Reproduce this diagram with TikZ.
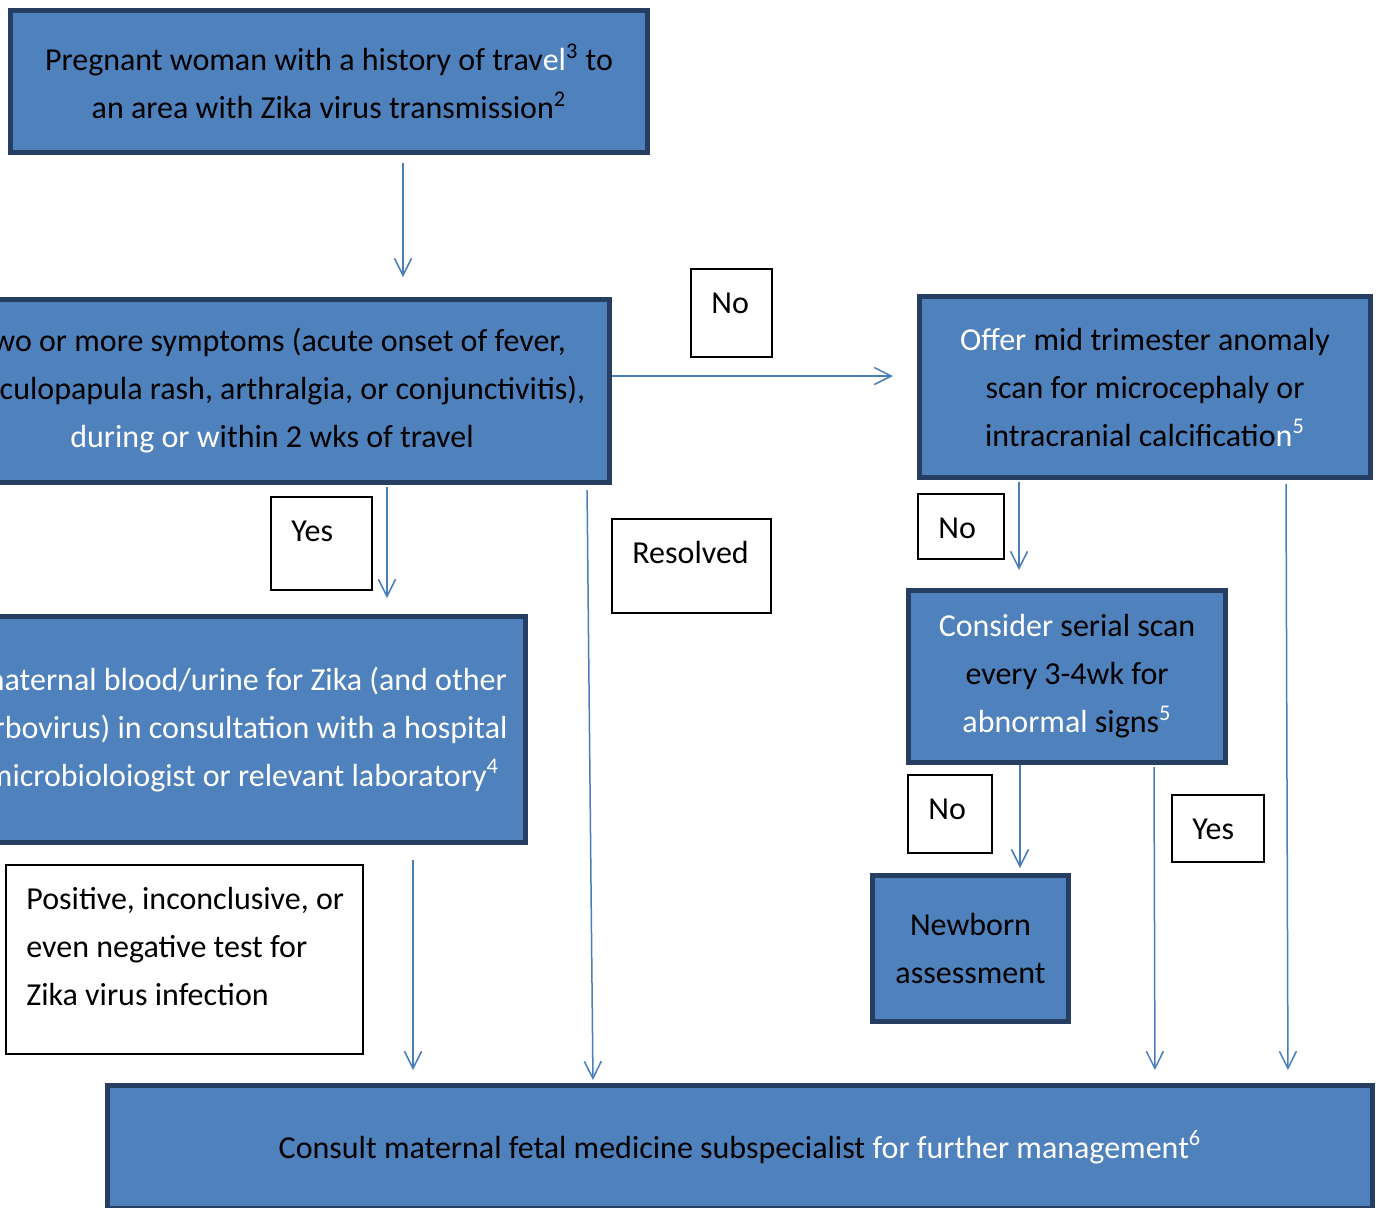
\documentclass[tikz,border=0pt]{standalone}
\usepackage{fontspec}
\setmainfont{Carlito}
\usetikzlibrary{arrows.meta,calc}
\definecolor{boxfill}{HTML}{4F81BD}
\definecolor{boxborder}{HTML}{253E62}
\definecolor{arrowblue}{HTML}{4A7EBB}
\newcommand\fs{\fontsize{16}{24}\selectfont}
\newcommand\wh[1]{\textcolor{white}{#1}}
\begin{document}
\begin{tikzpicture}[x=0.5pt,y=-0.5pt,
  bbox/.style={draw=boxborder, fill=boxfill, line width=2.5pt, align=center, font=\fs, inner sep=0pt},
  lframe/.style={draw=black, line width=0.8pt, fill=white, inner sep=0pt},
  ltext/.style={anchor=base west, inner sep=0pt, align=left, font=\fs},
  arr/.style={draw=arrowblue, line width=0.75pt, -{Straight Barb[length=8.5pt,width=8.5pt]}}]
\useasboundingbox (0,0) rectangle (1378,1207);
\clip (0,0) rectangle (1378,1207);
\fill[white] (0,0) rectangle (1378,1207);

% main boxes
\node[bbox, minimum width=318.5pt, minimum height=71pt] (b1) at (329,81.5)
  {Pregnant woman with a history of trav\wh{el}\textsuperscript{3} to\\ an area with Zika virus transmission\textsuperscript{2}};
\node[bbox, minimum width=337.5pt, minimum height=91.5pt] (b2) at (272,391)
  {Two or more symptoms (acute onset of fever,\\ maculopapula rash, arthralgia, or conjunctivitis),\\ \wh{during or w}ithin 2 wks of travel};
\node[bbox, minimum width=282.5pt, minimum height=113pt, text=white] (b3) at (243,729.5)
  {maternal blood/urine for Zika (and other\\ arbovirus) in consultation with a hospital\\ microbioloiogist or relevant laboratory\textsuperscript{4}};
\node[bbox, minimum width=225.5pt, minimum height=90.5pt] (offer) at (1145,387)
  {\wh{Offer} mid trimester anomaly\\ scan for microcephaly or\\ intracranial calcificatio\wh{n\textsuperscript{5}}};
\node[bbox, minimum width=158.5pt, minimum height=86pt] (cons) at (1067,676.5)
  {\wh{Consider} serial scan\\ every 3-4wk for\\ \wh{abnormal} signs\wh{\textsuperscript{5}}};
\node[bbox, minimum width=98pt, minimum height=73pt] (newb) at (970.5,948.5)
  {Newborn\\ assessment};
\node[bbox, minimum width=632.5pt, minimum height=61.5pt] (bot) at (740,1147)
  {Consult maternal fetal medicine subspecialist \wh{for further management\textsuperscript{6}}};

% label frames
\node[lframe, minimum width=40.7pt, minimum height=44.2pt] (no1) at (731.5,313) {};
\node[lframe, minimum width=50.7pt, minimum height=46.7pt] (yes1) at (321.5,543.5) {};
\node[lframe, minimum width=79.7pt, minimum height=47.2pt] (res) at (691.5,566) {};
\node[lframe, minimum width=43.2pt, minimum height=32.7pt] (no2) at (961,526.5) {};
\node[lframe, minimum width=42.2pt, minimum height=39.2pt] (no3) at (950,814) {};
\node[lframe, minimum width=46.2pt, minimum height=33.7pt] (yes2) at (1218,828.5) {};
\node[lframe, minimum width=178.7pt, minimum height=94.7pt] (pos) at (184.5,959.5) {};

% label texts
\node[ltext] (no1t) at ([shift={(21,45)}]no1.north west) {No};
\node[ltext] (yes1t) at ([shift={(21,45)}]yes1.north west) {Yes};
\node[ltext] (rest) at ([shift={(21,45)}]res.north west) {Resolved};
\node[ltext] (no2t) at ([shift={(21,45)}]no2.north west) {No};
\node[ltext] (no3t) at ([shift={(21,45)}]no3.north west) {No};
\node[ltext] (yes2t) at ([shift={(21,45)}]yes2.north west) {Yes};
\node[ltext] (post) at ([shift={(21,141)}]pos.north west) {Positive, inconclusive, or\\ even negative test for\\ Zika virus infection};

% connectors
\draw[arr, shorten <=4pt, shorten >=10pt] (b1.south -| 403,0) -- (b2.north -| 403,0);
\draw[arr, shorten <=1pt, shorten >=8pt] (b2.south -| 387,0) -- (b3.north -| 387,0);
\draw[arr, shorten >=12pt] (b2.east |- 0,376) -- (offer.west |- 0,376);
\draw[arr, shorten <=2.5pt, shorten >=1.5pt] (b2.south -| 587,0) -- (bot.north -| 593,0);
\draw[arr, shorten <=1pt, shorten >=9pt] (offer.south -| 1019,0) -- (cons.north -| 1019,0);
\draw[arr, shorten <=2pt, shorten >=6.5pt] (offer.south -| 1286,0) -- (bot.north -| 1288,0);
\draw[arr, shorten >=2.5pt] (cons.south -| 1020,0) -- (newb.north -| 1020,0);
\draw[arr, shorten <=1pt, shorten >=6.5pt] (cons.south -| 1154,0) -- (bot.north -| 1155,0);
\draw[arr, shorten <=7.5pt, shorten >=6.5pt] (b3.south -| 413,0) -- (bot.north -| 413,0);
\end{tikzpicture}
\end{document}
